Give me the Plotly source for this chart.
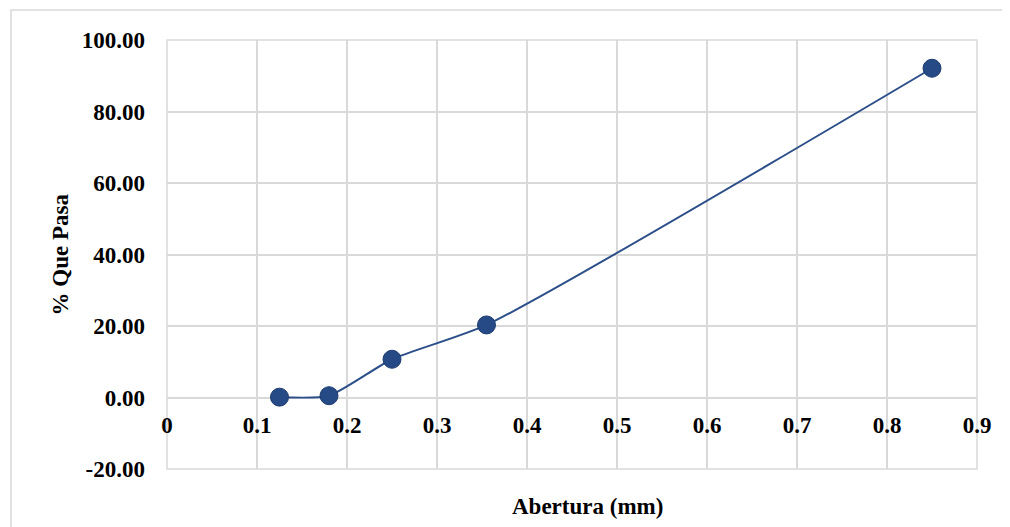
import plotly.graph_objects as go

abertura = [0.125, 0.18, 0.25, 0.355, 0.85]
que_pasa = [0.1, 0.5, 10.7, 20.3, 92.1]
x_ticks = [0, 0.1, 0.2, 0.3, 0.4, 0.5, 0.6, 0.7, 0.8, 0.9]
y_ticks = [-20, 0, 20, 40, 60, 80, 100]
y_labels = ["-20.00", "0.00", "20.00", "40.00", "60.00", "80.00", "100.00"]

font_family = "Liberation Serif, Times New Roman, serif"
grid = "#d9d9d9"

# page body has an 8px margin; figure area is sized to fit the 1010x527 window
W, H = 1002, 519
L, R, T, B = 159, 33, 32, 58
pw, ph = W - L - R, H - T - B

fig = go.Figure()
fig.add_trace(go.Scatter(
    x=abertura, y=que_pasa, mode="lines+markers",
    line=dict(color="#2c4f8a", width=2, shape="spline", smoothing=0.6),
    marker=dict(color="#254a85", size=18, line=dict(color="#1d3c70", width=1)),
    showlegend=False,
))

fig.update_layout(
    width=W, height=H,
    margin=dict(l=L, r=R, t=T, b=B),
    paper_bgcolor="white", plot_bgcolor="white",
    font=dict(family=font_family, color="black"),
    xaxis=dict(range=[0, 0.9], tickvals=x_ticks, ticktext=[str(v) for v in x_ticks],
               showgrid=True, gridcolor=grid, gridwidth=1.5, zeroline=False,
               showline=False, anchor="free", position=1/6,
               tickfont=dict(size=23, family=font_family, weight="bold"),
               ticklabelstandoff=11),
    yaxis=dict(range=[-20, 100], tickvals=y_ticks, ticktext=y_labels,
               showgrid=True, gridcolor=grid, gridwidth=1.5, zeroline=False,
               showline=False, domain=[0, 1],
               tickfont=dict(size=23, family=font_family, weight="bold"),
               ticklabelstandoff=21),
    shapes=[
        dict(type="rect", xref="paper", yref="paper", x0=0, x1=1, y0=0, y1=1,
             line=dict(color=grid, width=1.5), fillcolor="rgba(0,0,0,0)", layer="below"),
        dict(type="rect", xref="paper", yref="paper",
             x0=(3 - L) / pw, x1=(1030 - L) / pw,
             y0=-80 / ph, y1=1 + 30 / ph,
             line=dict(color="#d9d9d9", width=1.5), fillcolor="rgba(0,0,0,0)"),
    ],
    annotations=[
        dict(text="<b>Abertura (mm)</b>", xref="paper", yref="paper",
             x=(579 - L) / pw, y=-38 / ph, showarrow=False,
             font=dict(size=23, family=font_family), xanchor="center", yanchor="middle"),
        dict(text="<b>% Que Pasa</b>", xref="paper", yref="paper",
             x=(52 - L) / pw, y=0.5, showarrow=False, textangle=-90,
             font=dict(size=23, family=font_family), xanchor="center", yanchor="middle"),
    ],
)

fig.write_html("out.html")
